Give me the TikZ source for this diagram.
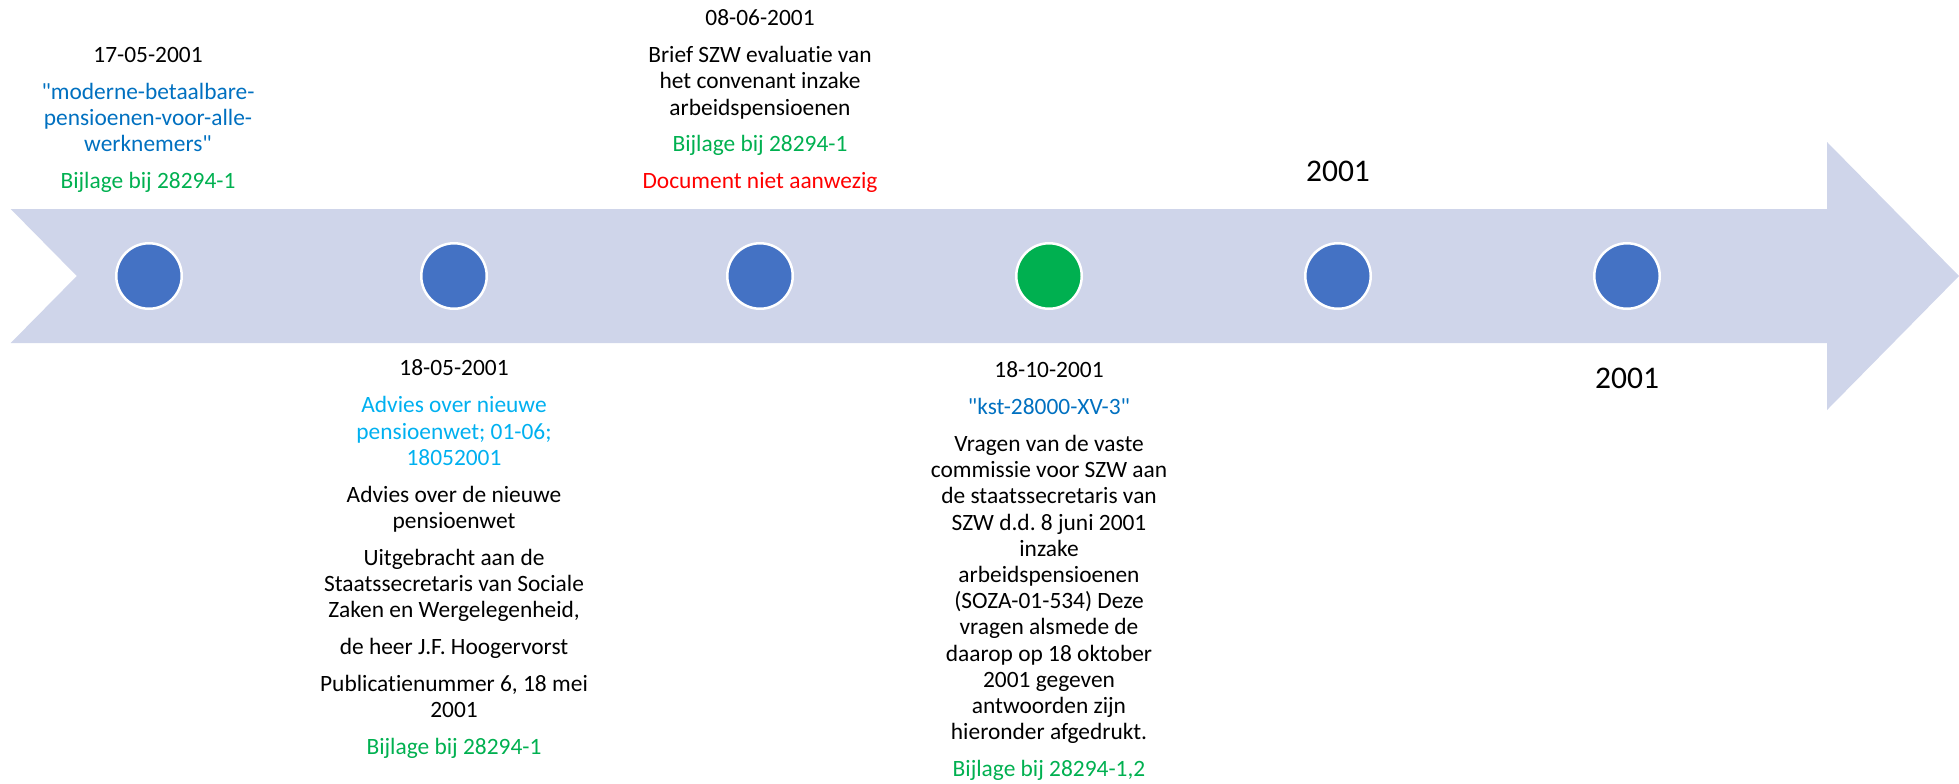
\documentclass[tikz,border=0pt]{standalone}
\usepackage{fontspec}
\setmainfont{Carlito}[Ligatures={TeXOff,NoCommon}]
\definecolor{arrowfill}{RGB}{207,213,234}
\definecolor{dotblue}{RGB}{68,114,196}
\definecolor{dotgreen}{RGB}{0,176,80}
\definecolor{txtblue}{RGB}{0,112,192}
\definecolor{txtcyan}{RGB}{0,176,240}
\definecolor{txtgreen}{RGB}{0,176,80}
\definecolor{txtred}{RGB}{255,0,0}
\tikzset{
  dot/.style={circle, minimum size=65.5pt*0.5, inner sep=0pt, draw=white, line width=1.25pt},
  bluedot/.style={dot, fill=dotblue},
  greendot/.style={dot, fill=dotgreen},
  event/.style={align=center, inner sep=0pt, anchor=base, font=\fontsize{11.7pt}{13.1pt}\selectfont\frenchspacing},
  yearlbl/.style={inner sep=0pt, anchor=base, font=\fontsize{15.75pt}{18pt}\selectfont}
}
\newcommand{\pgap}{\\[5.35pt]}
\begin{document}
\begin{tikzpicture}[x=0.5pt, y=-0.5pt]
\useasboundingbox (0,0) rectangle (1959,783);
% timeline arrow
\fill[arrowfill] (10.7,209) -- (1827,209) -- (1827,142) -- (1959,276) -- (1827,410)
  -- (1827,343) -- (10.7,343) -- (76.8,276) -- cycle;
% dots
\node[bluedot]  (c1) at (149,276) {};
\node[bluedot]  (c2) at (454,276) {};
\node[bluedot]  (c3) at (760,276) {};
\node[greendot] (c4) at (1049,276) {};
\node[bluedot]  (c5) at (1338,276) {};
\node[bluedot]  (c6) at (1627,276) {};
% texts above (anchor = baseline of last line)
\node[event] (t1) at (148,188.6) {17-05-2001\pgap
  \textcolor{txtblue}{"moderne-betaalbare-}\\
  \textcolor{txtblue}{pensioenen-voor-alle-}\\
  \textcolor{txtblue}{werknemers"}\pgap
  \textcolor{txtgreen}{Bijlage bij 28294-1}};
\node[event] (t3) at (760,188.8) {08-06-2001\pgap
  Brief SZW evaluatie van\\
  het convenant inzake\\
  arbeidspensioenen\pgap
  \textcolor{txtgreen}{Bijlage bij 28294-1}\pgap
  \textcolor{txtred}{Document niet aanwezig}};
\node[yearlbl] (y5) at (1338,181.6) {2001};
% texts below
\node[event] (t2) at (454,754.5) {18-05-2001\pgap
  \textcolor{txtcyan}{Advies over nieuwe}\\
  \textcolor{txtcyan}{pensioenwet; 01-06;}\\
  \textcolor{txtcyan}{18052001}\pgap
  Advies over de nieuwe\\
  pensioenwet\pgap
  Uitgebracht aan de\\
  Staatssecretaris van Sociale\\
  Zaken en Wergelegenheid,\pgap
  de heer J.F. Hoogervorst\pgap
  Publicatienummer 6, 18 mei\\
  2001\pgap
  \textcolor{txtgreen}{Bijlage bij 28294-1}};
\node[event] (t4) at (1049,776.5) {18-10-2001\pgap
  \textcolor{txtblue}{"kst-28000-XV-3"}\pgap
  Vragen van de vaste\\
  commissie voor SZW aan\\
  de staatssecretaris van\\
  SZW d.d. 8 juni 2001\\
  inzake\\
  arbeidspensioenen\\
  (SOZA-01-534) Deze\\
  vragen alsmede de\\
  daarop op 18 oktober\\
  2001 gegeven\\
  antwoorden zijn\\
  hieronder afgedrukt.\pgap
  \textcolor{txtgreen}{Bijlage bij 28294-1,2}};
\node[yearlbl] (y6) at (1627,388) {2001};
\end{tikzpicture}
\end{document}
